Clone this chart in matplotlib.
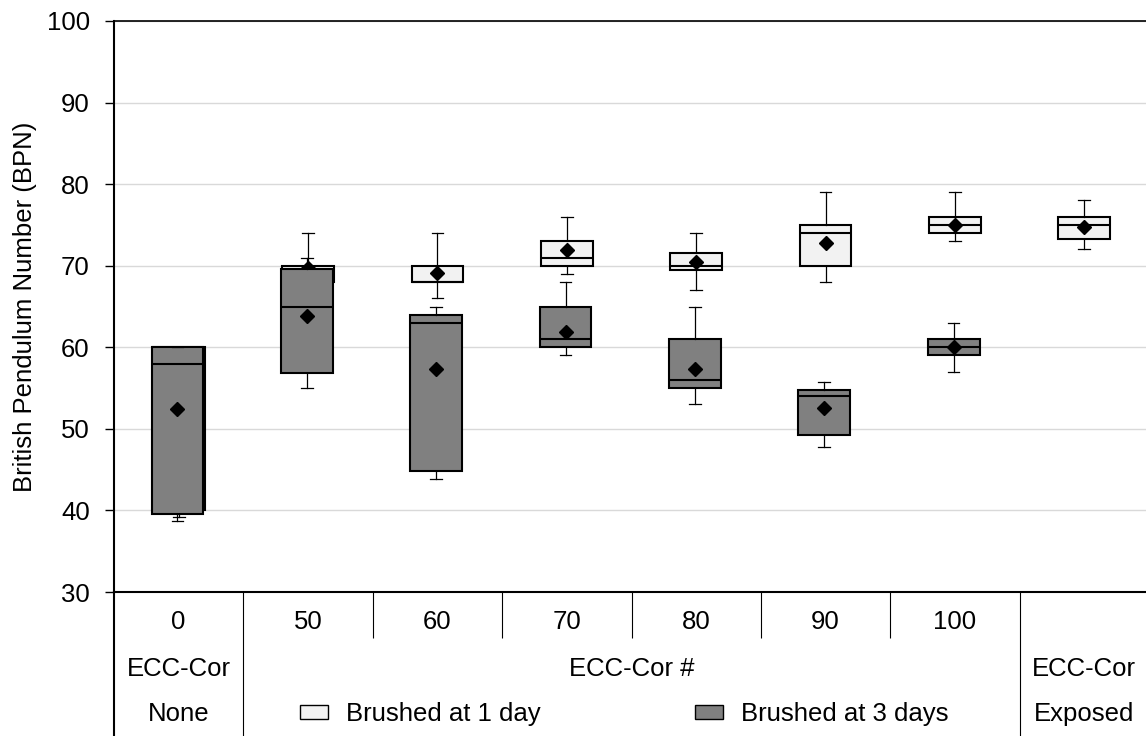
import matplotlib
matplotlib.use('Agg')
import matplotlib.pyplot as plt
from matplotlib.patches import Patch

plt.rcParams['font.family'] = ['Liberation Sans', 'DejaVu Sans']

# category labels (first row of the table under the axis)
categories = ['0', '50', '60', '70', '80', '90', '100', '']
row2_labels = ['ECC-Cor', 'ECC-Cor #', 'ECC-Cor']
row3_labels = ['None', 'Exposed']

# Brushed at 1 day (all 8 groups)
d1_q1 = [40, 68, 68, 70, 69.5, 70, 74, 73.3]
d1_med = [58, 69.5, 68, 71, 70, 74, 75, 75]
d1_q3 = [60, 70, 70, 73, 71.5, 75, 76, 76]
d1_lo = [39.2, 67, 66, 69, 67, 68, 73, 72]
d1_hi = [60, 74, 74, 76, 74, 79, 79, 78]
d1_mean = [52.4, 69.7, 69.1, 71.9, 70.4, 72.8, 75.0, 74.7]

# Brushed at 3 days (groups 0..100 only)
d3_q1 = [39.6, 56.9, 44.8, 60, 55, 49.3, 59]
d3_med = [58, 65, 63, 61, 56, 54, 60]
d3_q3 = [60, 69.6, 64, 65, 61, 54.8, 61]
d3_lo = [38.7, 55, 43.8, 59, 53, 47.8, 57]
d3_hi = [60, 71, 65, 68, 65, 55.8, 63]
d3_mean = [52.4, 63.8, 57.3, 61.9, 57.3, 52.6, 60.0]

light = '#f2f2f2'
dark = '#808080'
fs = 18.5


def make_stats(q1, med, q3, lo, hi, mean):
    return [dict(q1=a, med=b, q3=c, whislo=d, whishi=e, mean=f, fliers=[])
            for a, b, c, d, e, f in zip(q1, med, q3, lo, hi, mean)]


fig = plt.figure(figsize=(11.46, 7.36), dpi=100)
ax = fig.add_axes([114 / 1146, 1 - 592 / 736, 1035 / 1146, 571 / 736])

common = dict(widths=0.4, patch_artist=True, showmeans=True, manage_ticks=False,
              capwidths=0.09,
              medianprops=dict(color='black', linewidth=1.5),
              whiskerprops=dict(color='black', linewidth=0.9),
              capprops=dict(color='black', linewidth=0.9),
              meanprops=dict(marker='D', markerfacecolor='black', markeredgecolor='black',
                             markersize=7.5))

ax.bxp(make_stats(d1_q1, d1_med, d1_q3, d1_lo, d1_hi, d1_mean),
       positions=[i + 0.5 for i in range(len(d1_q1))],
       boxprops=dict(facecolor=light, edgecolor='black', linewidth=1.5),
       zorder=3, **common)
ax.bxp(make_stats(d3_q1, d3_med, d3_q3, d3_lo, d3_hi, d3_mean),
       positions=[i + 0.49 for i in range(len(d3_q1))],
       boxprops=dict(facecolor=dark, edgecolor='black', linewidth=1.5),
       zorder=4, **common)

ax.set_xlim(0, 8)
ax.set_ylim(30, 100)
ax.set_yticks(range(30, 101, 10))
ax.yaxis.grid(True, color='#d9d9d9', linewidth=1)
ax.set_axisbelow(True)
ax.tick_params(axis='y', direction='out', length=6.5, width=1, pad=11, labelsize=fs)
ax.set_ylabel('British Pendulum Number (BPN)', fontsize=fs, labelpad=7)

ax.set_xticks([i + 0.5 for i in range(len(categories))])
ax.set_xticklabels(categories)
ax.tick_params(axis='x', which='major', length=0, pad=13, labelsize=fs)
ax.set_xticks(range(2, 7), minor=True)
ax.tick_params(axis='x', which='minor', direction='out', length=33, width=0.8)

ax.spines['right'].set_visible(False)
ax.spines['left'].set_linewidth(1.5)
ax.spines['bottom'].set_linewidth(1.5)
ax.spines['top'].set_linewidth(1.2)

# full-height separators of the table
tr = ax.get_xaxis_transform()
for xs in [0, 1, 7]:
    ax.plot([xs, xs], [0, -0.26], color='black', linewidth=0.8 if xs else 1.5,
            transform=tr, clip_on=False)

row2_y = -(669 - 592) / 571
row3_y = -(714 - 592) / 571
for xs, lab in zip([0.5, 4.0, 7.5], row2_labels):
    ax.text(xs, row2_y, lab, transform=tr, ha='center', va='center', fontsize=fs)
for xs, lab in zip([0.5, 7.5], row3_labels):
    ax.text(xs, row3_y, lab, transform=tr, ha='center', va='center', fontsize=fs)

handles = [Patch(facecolor=light, edgecolor='black', linewidth=1),
           Patch(facecolor=dark, edgecolor='black', linewidth=1)]
fig.legend(handles, ['Brushed at 1 day', 'Brushed at 3 days'],
           loc='center left', bbox_to_anchor=(300 / 1146, 1 - 714 / 736),
           ncol=2, frameon=False, fontsize=fs, handlelength=1.1, handleheight=0.5,
           handletextpad=0.7, columnspacing=6.0, borderpad=0, borderaxespad=0)

fig.savefig('out.png', dpi=100)
